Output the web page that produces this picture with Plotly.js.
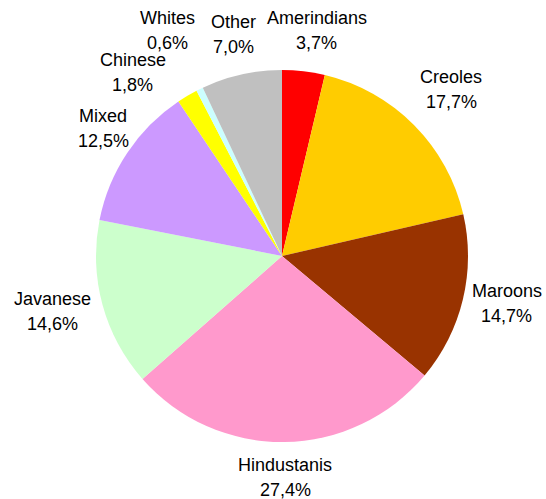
<!DOCTYPE html>
<html>
<head>
<meta charset="utf-8">
<script src="https://cdn.plot.ly/plotly-3.0.1.min.js"></script>
<style>
  html, body { margin: 0; padding: 0; background: #ffffff; }
  #chart { width: 546px; height: 499px; }
</style>
</head>
<body>
<div id="chart"></div>
<script>
// ---- data ----
var groups = ["Amerindians", "Creoles", "Maroons", "Hindustanis", "Javanese", "Mixed", "Chinese", "Whites", "Other"];
var shares = [3.7, 17.7, 14.7, 27.4, 14.6, 12.5, 1.8, 0.6, 7.0];
var sliceColors = ["#FF0000", "#FFCC00", "#993300", "#FF99CC", "#CCFFCC", "#CC99FF", "#FFFF00", "#CCFFFF", "#C0C0C0"];

// ---- layout constants (pixels) ----
var W = 546, H = 499;
var CX = 282, CY = 256, R = 186;
var FONT = "Liberation Sans, Arial, sans-serif";
var FS = 18, LINE = 25;
// label nudges (pixels) for labels moved off the default spot
var labelNudge = {
  "Whites": [-14, -22], "Chinese": [-31, 12], "Creoles": [6, -6],
  "Mixed": [8, 0], "Amerindians": [6, 0], "Maroons": [-3, -2]
};

function fmt(v) { return v.toFixed(1).replace(".", ",") + "%"; }

var ctx = document.createElement("canvas").getContext("2d");
ctx.font = FS + "px " + FONT;
function tw(s) { return ctx.measureText(s).width; }

var total = shares.reduce(function (a, b) { return a + b; }, 0);
var annotations = [];
var cum = 0;
for (var i = 0; i < groups.length; i++) {
  var mid = (cum + shares[i] / 2) / total;
  cum += shares[i];
  var ang = mid * 2 * Math.PI; // clockwise from 12 o'clock
  var s = Math.sin(ang), c = Math.cos(ang);
  var pr = R * 1.07;
  var px = CX + s * pr, py = CY - c * pr;
  var pct = fmt(shares[i]);
  var w = Math.max(tw(groups[i]), tw(pct));
  var lx = px + s * w / 2;
  var ly = py - c * LINE - 3;
  var n = labelNudge[groups[i]];
  if (n) { lx += n[0]; ly += n[1]; }
  annotations.push({
    xref: "paper", yref: "paper", x: lx / W, y: 1 - (ly - LINE / 2) / H,
    xanchor: "center", yanchor: "middle", showarrow: false,
    text: groups[i], font: { family: FONT, size: FS, color: "#000000" }
  });
  annotations.push({
    xref: "paper", yref: "paper", x: lx / W, y: 1 - (ly + LINE / 2) / H,
    xanchor: "center", yanchor: "middle", showarrow: false,
    text: pct, font: { family: FONT, size: FS, color: "#000000" }
  });
}

var trace = {
  type: "pie",
  labels: groups,
  values: shares,
  sort: false,
  direction: "clockwise",
  rotation: 0,
  marker: { colors: sliceColors, line: { width: 0 } },
  textinfo: "none",
  hoverinfo: "label+percent",
  domain: { x: [(CX - R) / W, (CX + R) / W], y: [1 - (CY + R) / H, 1 - (CY - R) / H] }
};

var layout = {
  width: W, height: H,
  margin: { l: 0, r: 0, t: 0, b: 0 },
  paper_bgcolor: "#ffffff",
  showlegend: false,
  annotations: annotations
};

Plotly.newPlot("chart", [trace], layout, { displayModeBar: false, staticPlot: true });
</script>
</body>
</html>
